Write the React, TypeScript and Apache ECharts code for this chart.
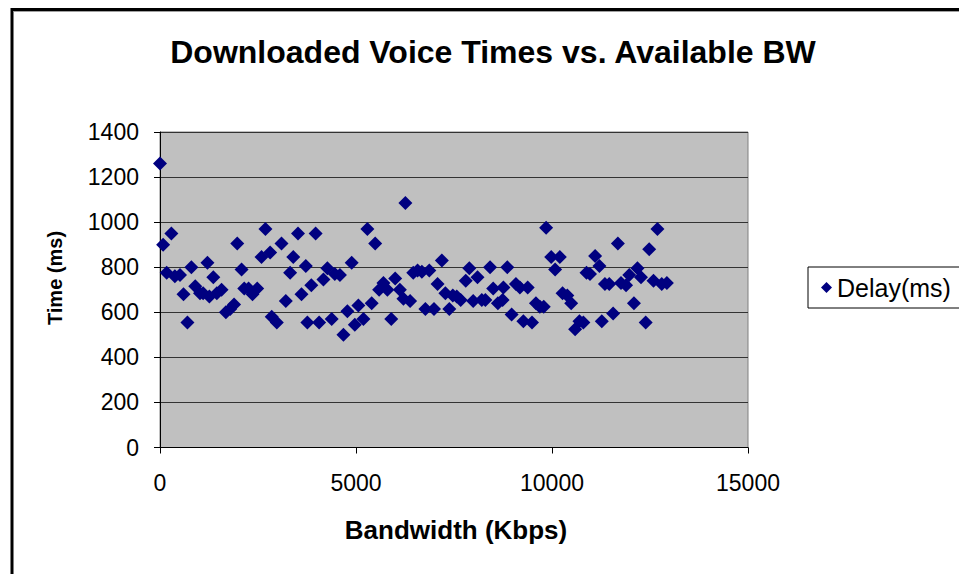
import React, { useEffect, useRef } from "react";
import * as echarts from "echarts";

const chartTitle = "Downloaded Voice Times vs. Available BW";
const xAxisTitle = "Bandwidth (Kbps)";
const yAxisTitle = "Time (ms)";
const seriesName = "Delay(ms)";

const bandwidthKbps = [
  0, 80, 290, 170, 380, 510, 600, 700, 800, 900, 1020, 1100, 1210, 1260, 1360, 1450, 1570, 1680, 1790, 1890,
  1970, 2080, 2150, 2260, 2360, 2480, 2590, 2690, 2810, 2850, 2980, 3100, 3210, 3320, 3400, 3520, 3610, 3720,
  3760, 3860, 3970, 4060, 4170, 4270, 4380, 4460, 4590, 4680, 4780, 4890, 4970, 5060,
  5190, 5290, 5400, 5490, 5590, 5700, 5800, 5900, 6000, 6120, 6210, 6260, 6380, 6460, 6570, 6680, 6770, 6870,
  6990, 7080, 7190, 7280, 7380, 7470, 7570, 7670, 7800, 7890, 7990, 8100, 8210, 8300, 8420, 8500, 8620, 8760,
  8740, 8860, 8970, 9080, 9180, 9270, 9380, 9490, 9590, 9690, 9790, 9850,
  9980, 10080, 10200, 10270, 10390, 10490, 10590, 10700, 10800, 10880, 10970, 11100, 11210, 11270, 11350,
  11460, 11560, 11680, 11760, 11890, 11970, 12090, 12180, 12270, 12390, 12480, 12590, 12690, 12800, 12930,
];

const delayMs = [
  1260, 900, 950, 775, 760, 765, 680, 555, 800, 715, 685, 685, 820, 670, 755, 685, 700, 600, 615, 635,
  905, 790, 705, 705, 680, 705, 845, 970, 865, 580, 555, 905, 650, 775, 845, 950, 680, 805,
  555, 720, 950, 555, 745, 795, 570, 770, 765, 500, 605, 820, 545, 630,
  570, 970, 640, 905, 700, 730, 700, 570, 750, 700, 660, 1085, 650, 775, 785, 780, 615, 785,
  615, 725, 830, 685, 615, 675, 670, 655, 740, 795, 650, 755, 655, 655, 800, 705, 640, 710,
  655, 800, 590, 725, 710, 560, 710, 555, 640, 625, 625, 975,
  845, 790, 845, 685, 675, 640, 525, 560, 555, 775, 770, 850, 805, 560, 725,
  725, 595, 905, 730, 720, 765, 640, 795, 755, 555, 880, 740, 970, 725, 730,
];

const xTicks = { min: 0, max: 15000, interval: 5000 };
const yTicks = { min: 0, max: 1400, interval: 200 };

const FONT = "'Liberation Sans', Arial, sans-serif";

export default function App() {
  const ref = useRef<HTMLDivElement>(null);

  useEffect(() => {
    if (!ref.current) return;
    const chart = echarts.init(ref.current, undefined, { renderer: "svg" });
    const points = bandwidthKbps.map((x, i) => [x, delayMs[i]]);
    const plain = (v: number) => String(v);
    chart.setOption({
      animation: false,
      backgroundColor: "#ffffff",
      textStyle: { fontFamily: FONT },
      grid: {
        left: 160,
        top: 132,
        right: 211,
        bottom: 126.5,
        show: true,
        backgroundColor: "#C0C0C0",
        borderColor: "#808080",
        borderWidth: 1,
      },
      legend: {
        show: true,
        left: 808,
        top: 267,
        orient: "vertical",
        icon: "diamond",
        itemWidth: 11,
        itemHeight: 11,
        itemGap: 5,
        padding: [8, 60, 8, 13],
        borderColor: "#000",
        borderWidth: 1,
        backgroundColor: "#fff",
        itemStyle: { opacity: 1 },
        textStyle: { fontSize: 25, color: "#000", fontFamily: FONT },
        data: [seriesName],
      },
      xAxis: {
        type: "value",
        min: xTicks.min,
        max: xTicks.max,
        interval: xTicks.interval,
        axisLine: { show: true, onZero: false, lineStyle: { color: "#000", width: 1 } },
        axisTick: { show: true, inside: false, length: 6, lineStyle: { color: "#000" } },
        axisLabel: { fontSize: 23, color: "#000", margin: 24, fontFamily: FONT, formatter: plain },
        splitLine: { show: false },
      },
      yAxis: {
        type: "value",
        min: yTicks.min,
        max: yTicks.max,
        interval: yTicks.interval,
        axisLine: { show: true, lineStyle: { color: "#000", width: 1 } },
        axisTick: { show: true, inside: false, length: 6, lineStyle: { color: "#000" } },
        axisLabel: { fontSize: 23, color: "#000", margin: 21, fontFamily: FONT, formatter: plain },
        splitLine: { show: true, lineStyle: { color: "#333", width: 1 } },
      },
      series: [
        {
          name: seriesName,
          type: "scatter",
          symbol: "diamond",
          symbolSize: 14,
          itemStyle: { color: "#000080", opacity: 1 },
          data: points,
        },
      ],
      graphic: [
        {
          type: "rect",
          shape: { x: 12, y: 9.5, width: 1100, height: 800 },
          style: { fill: "none", stroke: "#000", lineWidth: 3 },
          silent: true,
        },
        {
          type: "line",
          shape: { x1: 13.5, y1: 11.5, x2: 959, y2: 11.5 },
          style: { stroke: "#a0a0a0", lineWidth: 1 },
          silent: true,
        },
        {
          type: "text",
          x: 493,
          y: 52,
          style: {
            text: chartTitle,
            fontSize: 32,
            fontWeight: "bold",
            fontFamily: FONT,
            fill: "#000",
            textAlign: "center",
            textVerticalAlign: "middle",
            align: "center",
            verticalAlign: "middle",
          },
        },
        {
          type: "text",
          x: 456,
          y: 530,
          style: {
            text: xAxisTitle,
            fontSize: 26,
            fontWeight: "bold",
            fontFamily: FONT,
            fill: "#000",
            textAlign: "center",
            textVerticalAlign: "middle",
            align: "center",
            verticalAlign: "middle",
          },
        },
        {
          type: "text",
          x: 55,
          y: 278,
          rotation: Math.PI / 2,
          style: {
            text: yAxisTitle,
            fontSize: 20,
            fontWeight: "bold",
            fontFamily: FONT,
            fill: "#000",
            textAlign: "center",
            textVerticalAlign: "middle",
            align: "center",
            verticalAlign: "middle",
          },
        },
      ],
    });
    return () => chart.dispose();
  }, []);

  return (
    <div
      ref={ref}
      style={{ position: "fixed", left: 0, top: 0, width: 959, height: 574 }}
    />
  );
}
